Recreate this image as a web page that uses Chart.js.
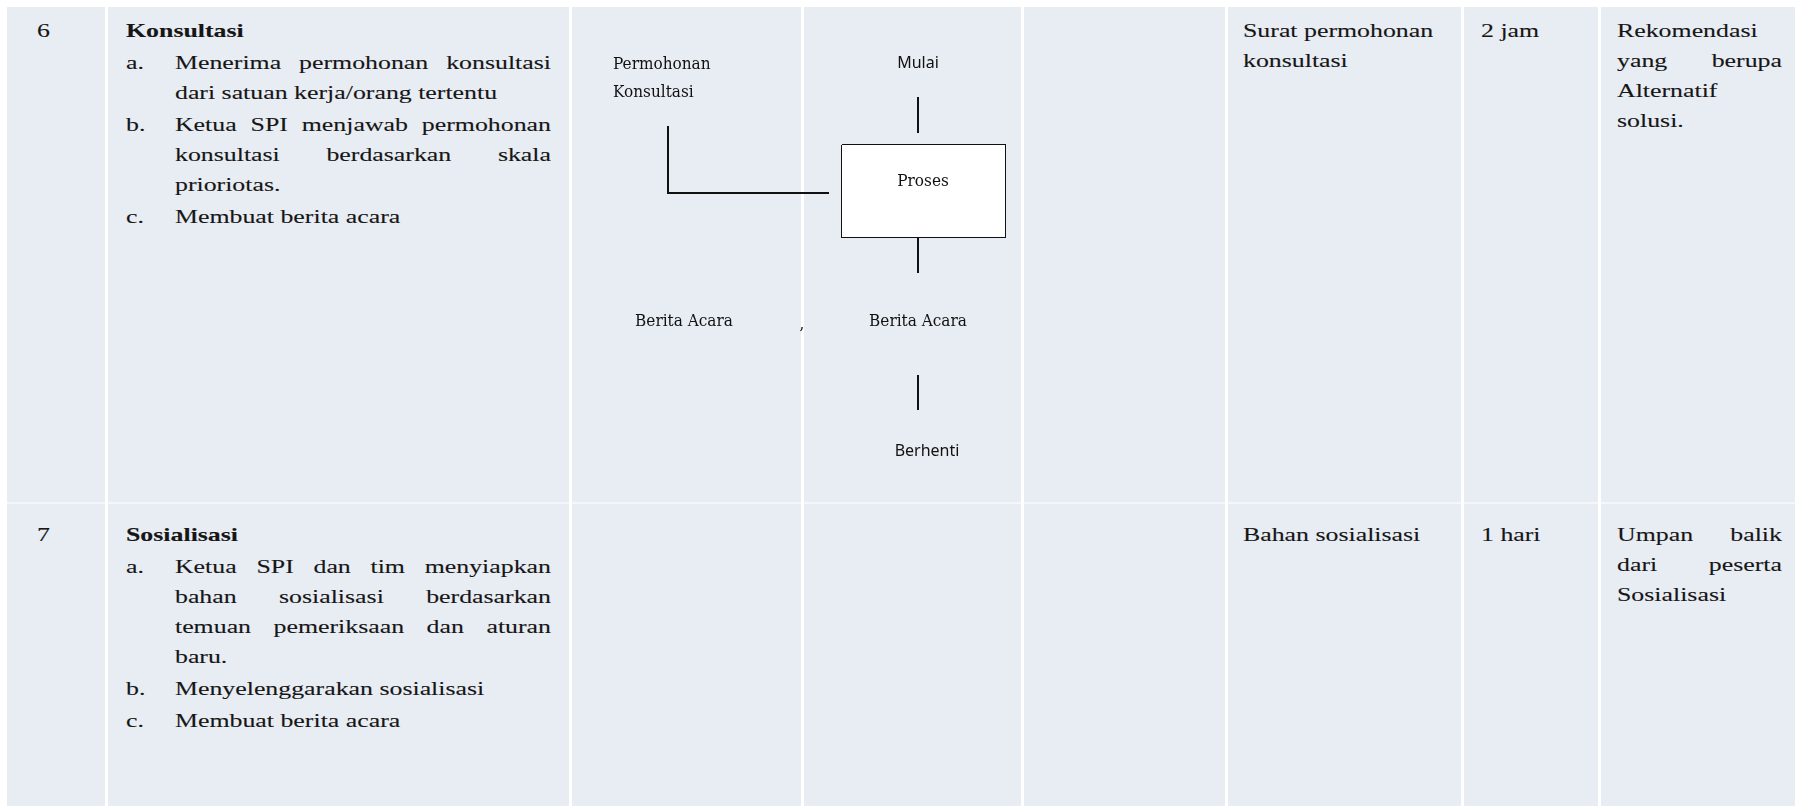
<!DOCTYPE html>
<html>
<head>
<meta charset="utf-8">
<script src="https://cdn.jsdelivr.net/npm/chart.js@4.4.1/dist/chart.umd.min.js"></script>
<style>
  html, body { margin: 0; padding: 0; background: #fff; }
  #page { position: relative; width: 1795px; height: 809px; overflow: hidden; }
  .sheet { position: absolute; left: 7px; top: 7px; width: 1788px; height: 799px; background: #e8ecf3; }
  .vline { position: absolute; top: 7px; width: 3px; height: 799px; background: #fff; }
  .hline { position: absolute; left: 7px; top: 502px; width: 1788px; height: 2px; background: rgba(255,255,255,0.55); }
  .txt {
    position: absolute;
    font-family: "Liberation Serif", "Times New Roman", serif;
    font-size: 19px;
    line-height: 30px;
    color: #161616;
    -webkit-text-stroke: 0.1px #161616;
    text-align: justify;
    transform: scaleX(1.36);
    transform-origin: 0 0;
  }
  .txt.left { text-align: left; }
  .title { font-weight: bold; }
  .item { position: relative; padding-left: 36px; margin-top: 2px; }
  .item .lbl { position: absolute; left: 0; top: 0; }
  #flow { position: absolute; left: 572px; top: 7px; }
</style>
</head>
<body>
<div id="page">
  <div class="sheet"></div>
  <canvas id="flow" width="449" height="495"></canvas>
</div>
<script>
// isi tabel
const rowNumbers = ['6', '7'];
const activityTitles = ['Konsultasi', 'Sosialisasi'];
const stepLabels = ['a.', 'b.', 'c.'];
const activitySteps = [
    [
        'Menerima permohonan konsultasi dari satuan kerja/orang tertentu',
        'Ketua SPI menjawab permohonan konsultasi berdasarkan skala prioriotas.',
        'Membuat berita acara'
    ],
    [
        'Ketua SPI dan tim menyiapkan bahan sosialisasi berdasarkan temuan pemeriksaan dan aturan baru.',
        'Menyelenggarakan sosialisasi',
        'Membuat berita acara'
    ]
];
const inputDocs = ['Surat permohonan konsultasi', 'Bahan sosialisasi'];
const durations = ['2 jam', '1 hari'];
const outputs = ['Rekomendasi yang berupa Alternatif solusi.', 'Umpan balik dari peserta Sosialisasi'];

// flowchart baris 6 (satuan = piksel sel)
const flowNodes = ['Permohonan', 'Konsultasi', 'Mulai', 'Proses', 'Berita Acara', ',', 'Berita Acara', 'Berhenti'];
const flowNodeX = [41, 41, 346, 351, 112, 230, 346, 355];
const flowNodeY = [58, 86, 56, 175, 315, 318, 315, 444];
const flowLinks = [
    [[346, 90], [346, 126]],
    [[346, 230], [346, 266]],
    [[96, 119], [96, 186], [257, 186]],
    [[346, 368], [346, 403]]
];
const processBoxX = [270, 433];
const processBoxY = [138, 230];

const page = document.getElementById('page');
const flowCanvas = document.getElementById('flow');
const SX = 1.36;
const dividers = [105, 569, 801, 1021, 1225, 1461, 1598];
const rowTops = [16, 520];

dividers.forEach((x) => {
    const d = document.createElement('div');
    d.className = 'vline';
    d.style.left = x + 'px';
    page.insertBefore(d, flowCanvas);
});
const h = document.createElement('div');
h.className = 'hline';
page.insertBefore(h, flowCanvas);

function place(html, left, top, width, extra) {
    const d = document.createElement('div');
    d.className = 'txt' + (extra ? ' ' + extra : '');
    d.style.left = left + 'px';
    d.style.top = top + 'px';
    d.style.width = (width / SX) + 'px';
    d.innerHTML = html;
    page.appendChild(d);
}

rowNumbers.forEach((num, r) => {
    const top = rowTops[r];
    place(num, 37, top, 50, 'left');
    const steps = activitySteps[r].map((s, i) =>
        `<div class="item"><span class="lbl">${stepLabels[i]}</span>${s}</div>`).join('');
    place(`<div class="title">${activityTitles[r]}</div>${steps}`, 126, top, 425);
    place(inputDocs[r], 1243, top, 207, 'left');
    place(durations[r], 1481, top, 110, 'left');
    place(outputs[r], 1617, top, 165);
});

const flowFonts = {
    serif: { font: '17px "DejaVu Serif"', sx: 0.9 },
    sans: { font: '16px "Noto Sans"', sx: 1 }
};
const flowNodeFont = ['serif', 'serif', 'sans', 'serif', 'serif', 'serif', 'serif', 'sans'];
const flowNodeAlign = ['left', 'left', 'center', 'center', 'center', 'center', 'center', 'center'];

const flowText = {
    id: 'flowText',
    afterDatasetsDraw(chart) {
        const { ctx, scales: { x, y } } = chart;
        flowNodes.forEach((t, i) => {
            const f = flowFonts[flowNodeFont[i]];
            ctx.save();
            ctx.font = f.font;
            ctx.fillStyle = '#111';
            ctx.textAlign = flowNodeAlign[i];
            ctx.textBaseline = 'middle';
            ctx.translate(x.getPixelForValue(flowNodeX[i]), y.getPixelForValue(flowNodeY[i]));
            ctx.scale(f.sx, 1);
            ctx.fillText(t, 0, 0);
            ctx.restore();
        });
    }
};

const lineStyle = { showLine: true, pointRadius: 0, borderColor: '#111', borderWidth: 2, fill: false };

new Chart(flowCanvas, {
    type: 'scatter',
    data: {
        datasets: [
            {
                // isi putih kotak Proses
                data: [{ x: processBoxX[0], y: processBoxY[1] }, { x: processBoxX[1], y: processBoxY[1] }],
                showLine: true,
                pointRadius: 0,
                borderWidth: 0,
                backgroundColor: '#fff',
                fill: { value: processBoxY[0] }
            },
            {
                ...lineStyle,
                data: [
                    { x: processBoxX[0], y: processBoxY[0] },
                    { x: processBoxX[1], y: processBoxY[0] },
                    { x: processBoxX[1], y: processBoxY[1] },
                    { x: processBoxX[0], y: processBoxY[1] },
                    { x: processBoxX[0], y: processBoxY[0] }
                ]
            },
            ...flowLinks.map((pts) => ({
                ...lineStyle,
                data: pts.map(([px, py]) => ({ x: px, y: py }))
            }))
        ]
    },
    options: {
        responsive: false,
        animation: false,
        events: [],
        layout: { padding: 0 },
        plugins: { legend: { display: false }, tooltip: { enabled: false } },
        scales: {
            x: { type: 'linear', min: 0, max: 449, display: false },
            y: { type: 'linear', min: 0, max: 495, reverse: true, display: false }
        }
    },
    plugins: [flowText]
});
</script>
</body>
</html>
